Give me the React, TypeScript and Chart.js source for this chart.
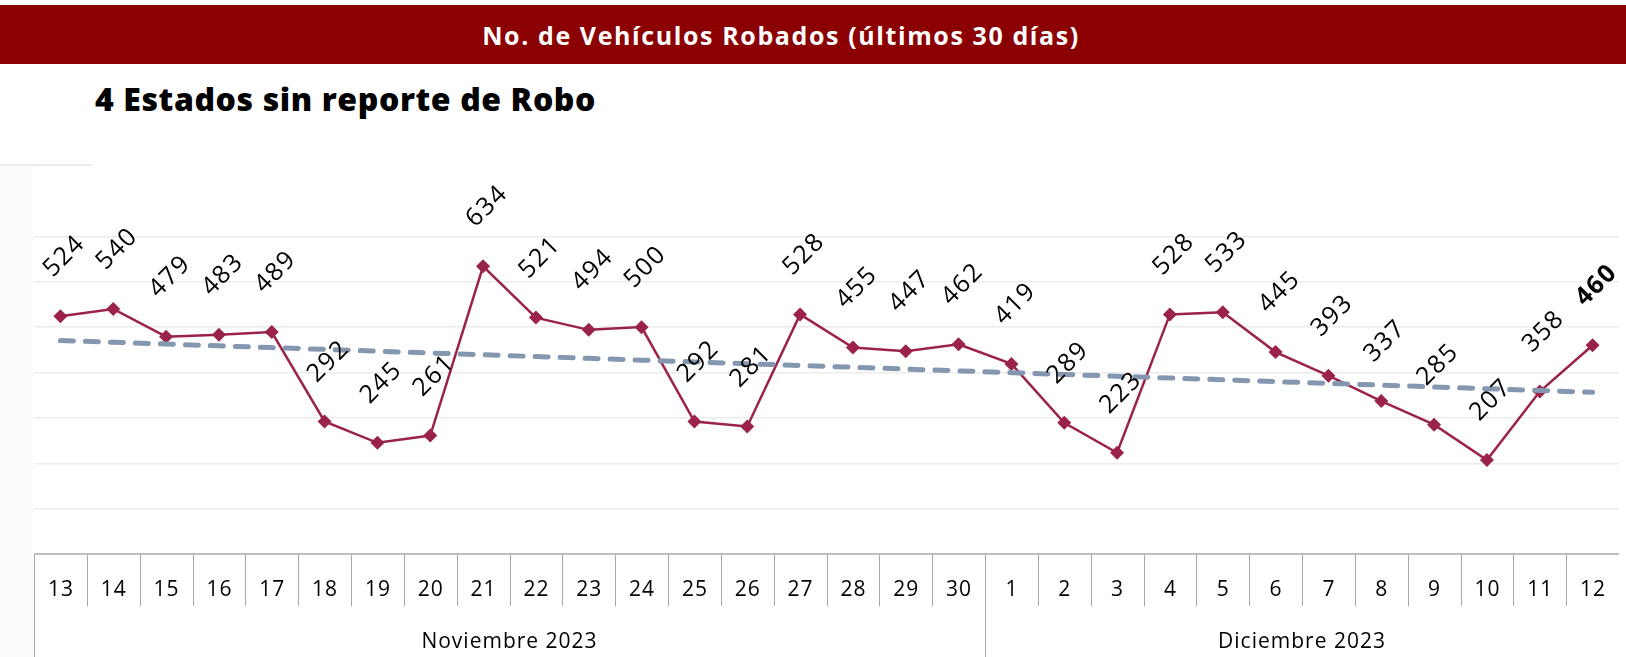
import React, { useEffect, useRef } from "react";
import { Chart, registerables } from "chart.js";
Chart.register(...registerables);

const headerTitle = "No. de Vehículos Robados (últimos 30 días)";
const subTitle = "4 Estados sin reporte de Robo";
const days = ["13","14","15","16","17","18","19","20","21","22","23","24","25","26","27","28","29","30","1","2","3","4","5","6","7","8","9","10","11","12"];
const months = ["Noviembre 2023", "Diciembre 2023"];
const monthSpans = [18, 12];
const robos = [524,540,479,483,489,292,245,261,634,521,494,500,292,281,528,455,447,462,419,289,223,528,533,445,393,337,285,207,358,460];
const yMin = 0;
const yMax = 800;
const yStep = 100;

const FONT = "'Open Sans', 'Noto Sans', sans-serif";

function linearTrend(vals: number[]): number[] {
  const n = vals.length;
  let sx = 0, sy = 0, sxx = 0, sxy = 0;
  vals.forEach((v, i) => { sx += i; sy += v; sxx += i * i; sxy += i * v; });
  const b = (n * sxy - sx * sy) / (n * sxx - sx * sx);
  const a = (sy - b * sx) / n;
  return vals.map((_, i) => a + b * i);
}

const tablePlugin = {
  id: "catTable",
  afterDraw(chart: any) {
    const ctx = chart.ctx;
    const x = chart.scales.x;
    const area = chart.chartArea;
    const top = area.bottom;
    const H = chart.height;
    const n = days.length;
    const centers = days.map((_, i) => x.getPixelForValue(i));
    const edge = (i: number) => {
      if (i <= 0) return area.left;
      if (i >= n) return area.right;
      return (centers[i - 1] + centers[i]) / 2;
    };
    ctx.save();
    const monthStarts = new Set<number>();
    let acc = 0;
    monthSpans.forEach((s) => { monthStarts.add(acc); acc += s; });
    ctx.strokeStyle = "#a6a6a6";
    ctx.lineWidth = 1;
    for (let i = 0; i < n; i++) {
      const ex = Math.round(edge(i)) + 0.5;
      ctx.beginPath();
      ctx.moveTo(ex, top);
      ctx.lineTo(ex, monthStarts.has(i) ? H : top + 52);
      ctx.stroke();
    }
    ctx.strokeStyle = "#bfbfbf";
    ctx.lineWidth = 2;
    ctx.beginPath();
    ctx.moveTo(area.left, top);
    ctx.lineTo(area.right, top);
    ctx.stroke();
    ctx.fillStyle = "#000";
    ctx.font = `21px ${FONT}`;
    (ctx as any).letterSpacing = "1px";
    ctx.textAlign = "center";
    ctx.textBaseline = "middle";
    days.forEach((d, i) => ctx.fillText(d, centers[i] + 0.5, top + 36));
    let start = 0;
    months.forEach((m, k) => {
      const l = edge(start);
      const r = edge(start + monthSpans[k]);
      ctx.fillText(m, (l + r) / 2, top + 88);
      start += monthSpans[k];
    });
    ctx.restore();
  },
};

const labelPlugin = {
  id: "rotLabels",
  afterDatasetsDraw(chart: any) {
    const ctx = chart.ctx;
    const meta = chart.getDatasetMeta(0);
    ctx.save();
    ctx.fillStyle = "#000";
    ctx.textAlign = "center";
    ctx.textBaseline = "middle";
    (ctx as any).letterSpacing = "1.5px";
    meta.data.forEach((pt: any, i: number) => {
      const last = i === robos.length - 1;
      ctx.save();
      ctx.translate(pt.x + 4, pt.y - 60);
      ctx.rotate(-Math.PI / 4);
      ctx.font = `${last ? "bold " : ""}25px ${FONT}`;
      ctx.fillText(String(robos[i]), 0, 0);
      ctx.restore();
    });
    ctx.restore();
  },
};

export default function App() {
  const ref = useRef<HTMLCanvasElement>(null);
  useEffect(() => {
    document.body.style.margin = "0";
    const trend = linearTrend(robos);
    const chart = new Chart(ref.current!, {
      type: "line",
      data: {
        labels: days,
        datasets: [
          {
            data: robos,
            borderColor: "#9b2249",
            backgroundColor: "#9b2249",
            borderWidth: 2.5,
            pointStyle: "rectRot",
            pointRadius: 7,
            pointBorderWidth: 0,
            tension: 0,
            order: 1,
          },
          {
            data: trend,
            borderColor: "#8497b0",
            borderWidth: 5,
            borderDash: [13, 12],
            borderCapStyle: "round",
            pointRadius: 0,
            tension: 0,
            order: 0,
          },
        ],
      },
      options: {
        animation: false,
        responsive: false,
        maintainAspectRatio: false,
        events: [],
        layout: { padding: { left: 34, right: 0, top: 191, bottom: 103 } },
        plugins: { legend: { display: false }, tooltip: { enabled: false }, title: { display: false } },
        scales: {
          x: { type: "category", offset: true, display: false },
          y: {
            min: yMin,
            max: yMax,
            ticks: { display: false, stepSize: yStep },
            border: { display: false },
            grid: {
              drawTicks: false,
              lineWidth: 1.5,
              color: (c: any) => (c.tick && (c.tick.value === yMax || c.tick.value === yMin) ? "rgba(0,0,0,0)" : "#ececec"),
            },
            afterFit: (s: any) => { s.width = 0; },
          },
        },
      },
      plugins: [tablePlugin, labelPlugin],
    } as any);
    return () => chart.destroy();
  }, []);

  return (
    <div style={{ position: "relative", width: 1626, height: 657, overflow: "hidden", background: "#fff" }}>
      <div style={{ position: "absolute", left: 0, top: 5, width: 1626, height: 59, background: "#8b0000" }} />
      <div style={{ position: "absolute", left: 0, top: 5, width: 1562, height: 59, display: "flex", alignItems: "center", justifyContent: "center", color: "#fff", fontFamily: FONT, fontWeight: 700, fontSize: 25, letterSpacing: "1.6px", whiteSpace: "nowrap" }}>
        {headerTitle}
      </div>
      <div style={{ position: "absolute", left: 95, top: 76, height: 44, display: "flex", alignItems: "center", color: "#000", fontFamily: FONT, fontWeight: 800, fontSize: 32, letterSpacing: "0.6px", whiteSpace: "nowrap" }}>
        {subTitle}
      </div>
      <div style={{ position: "absolute", left: 0, top: 164, width: 92, height: 2, background: "#ececec" }} />
      <div style={{ position: "absolute", left: 0, top: 166, width: 33, height: 491, background: "#fbfbfb" }} />
      <canvas ref={ref} width={1626} height={657} style={{ position: "absolute", left: 0, top: 0, width: 1626, height: 657 }} />
    </div>
  );
}
